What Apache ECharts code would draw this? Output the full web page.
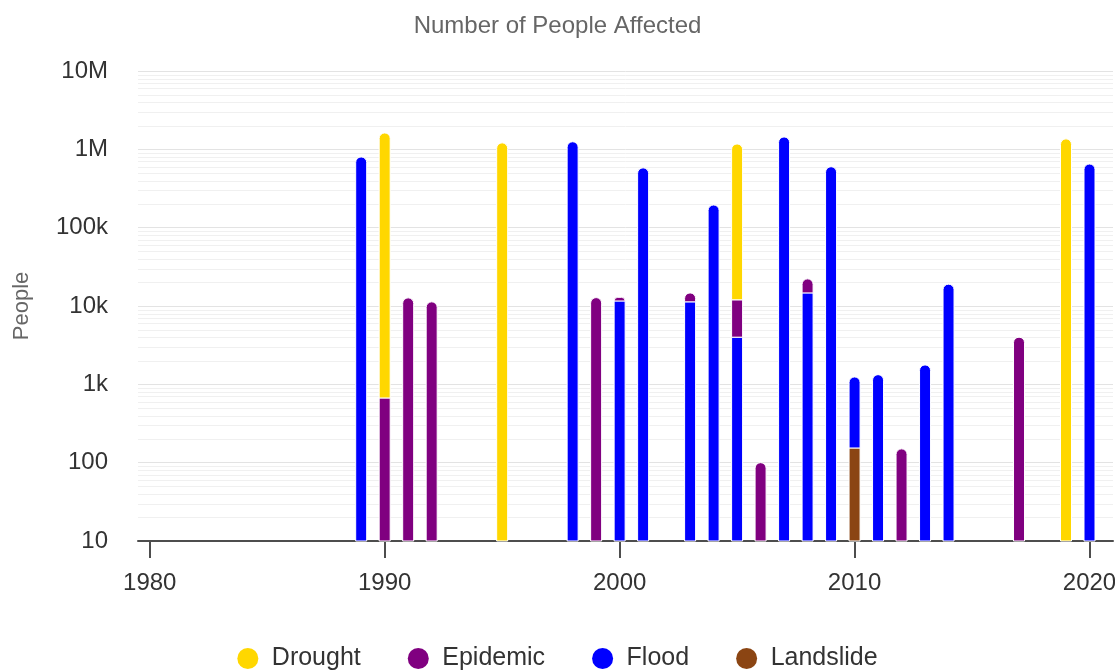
<!DOCTYPE html>
<html>
<head>
<meta charset="utf-8">
<title>Number of People Affected</title>
<script src="https://cdn.jsdelivr.net/npm/echarts@6/dist/echarts.min.js"></script>
<style>
  html, body { margin: 0; padding: 0; background: #fff; }
  #chart { width: 1115px; height: 670px; }
</style>
</head>
<body>
<div id="chart"></div>
<script>
// Years that have at least one recorded event
const years = [1989, 1990, 1991, 1992, 1995, 1998, 1999, 2000, 2001, 2003, 2004, 2005,
               2006, 2007, 2008, 2009, 2010, 2011, 2012, 2013, 2014, 2017, 2019, 2020];

// People affected per disaster type, aligned with `years` (null = no event)
const drought   = [null, 1620000, null, null, 1210000, null, null, null, null, null, null, 1160000,
                   null, null, null, null, null, null, null, null, null, null, 1360000, null];
const epidemic  = [null, 670, 12700, 11300, null, null, 12800, 1300, null, 3400, null, 8000,
                   100, null, 7500, null, null, null, 150, null, null, 4000, null, null];
const flood     = [800000, null, null, null, null, 1250000, null, 11600, 580000, 11300, 195000, 4000,
                   null, 1440000, 14700, 600000, 1090, 1330, null, 1770, 19000, null, null, 650000];
const landslide = [null, null, null, null, null, null, null, null, null, null, null, null,
                   null, null, null, null, 154, null, null, null, null, null, null, null];

const xTicks = [1980, 1990, 2000, 2010, 2020];
const yMin = 10, yMax = 10000000;

// Stack order from the bottom up
const layers = [
  { name: 'Landslide', values: landslide, color: '#8B4513' },
  { name: 'Flood',     values: flood,     color: '#0000FF' },
  { name: 'Epidemic',  values: epidemic,  color: '#800080' },
  { name: 'Drought',   values: drought,   color: '#FFD700' }
];
const legendOrder = ['Drought', 'Epidemic', 'Flood', 'Landslide'];

// Build [year, lower, upper, isTop] segments for each layer
const segments = layers.map(() => []);
years.forEach((yr, i) => {
  let base = yMin;
  let total = 0;
  let topLayer = -1;
  layers.forEach((l, k) => { if (l.values[i] != null) topLayer = k; });
  layers.forEach((l, k) => {
    const v = l.values[i];
    if (v == null) return;
    total += v;
    const upper = Math.max(total, yMin);
    segments[k].push([yr, base, upper, k === topLayer ? 1 : 0]);
    base = upper;
  });
});

// Minor log grid lines at 2..9 within each decade
const minorGrid = [];
for (let e = 1; e < 7; e++) {
  for (let m = 2; m <= 9; m++) minorGrid.push([years[0], m * Math.pow(10, e)]);
}

const BAR_W = 11;
function renderSegment(params, api) {
  const x = api.value(0);
  const p0 = api.coord([x, api.value(1)]);
  const p1 = api.coord([x, api.value(2)]);
  const isTop = api.value(3) === 1;
  const r = BAR_W / 2;
  return {
    type: 'rect',
    shape: {
      x: p0[0] - BAR_W / 2,
      y: p1[1],
      width: BAR_W,
      height: p0[1] - p1[1],
      r: isTop ? [r, r, 0, 0] : 0
    },
    style: { fill: api.visual('color'), stroke: '#ffffff', lineWidth: 1 }
  };
}

function renderGridLine(params, api) {
  const cs = params.coordSys;
  const y = Math.round(api.coord([api.value(0), api.value(1)])[1]) + 0.5;
  return {
    type: 'line',
    shape: { x1: cs.x, y1: y, x2: cs.x + cs.width, y2: y },
    style: { stroke: '#f0f0f0', lineWidth: 1 },
    silent: true
  };
}

const FONT = '"Liberation Sans", Arial, Helvetica, sans-serif';

function yLabel(v) {
  if (v >= 1e6) return (v / 1e6) + 'M';
  if (v >= 1e3) return (v / 1e3) + 'k';
  return String(v);
}

const series = [{
  type: 'custom',
  name: 'grid-minor',
  renderItem: renderGridLine,
  data: minorGrid,
  encode: { x: 0, y: 1 },
  silent: true,
  z: 0,
  tooltip: { show: false }
}].concat(layers.map((l, k) => ({
  type: 'custom',
  name: l.name,
  renderItem: renderSegment,
  data: segments[k],
  encode: { x: 0, y: [1, 2] },
  itemStyle: { color: l.color },
  z: 2
})));

const chart = echarts.init(document.getElementById('chart'), null, { renderer: 'canvas' });
chart.setOption({
  animation: false,
  backgroundColor: '#ffffff',
  textStyle: { fontFamily: FONT },
  title: {
    text: 'Number of People Affected',
    left: 'center',
    top: 9,
    textStyle: { fontFamily: FONT, fontSize: 24, fontWeight: 'normal', color: '#666666' }
  },
  legend: {
    data: legendOrder,
    left: 'center',
    top: 641,
    icon: 'circle',
    itemWidth: 38,
    itemHeight: 21,
    itemGap: 47,
    textStyle: { fontFamily: FONT, fontSize: 25, color: '#333333' }
  },
  grid: { left: 138, right: 2, top: 71, bottom: 129, containLabel: false, outerBoundsMode: 'none' },
  xAxis: {
    type: 'value',
    min: 1979.5,
    max: 2021,
    splitLine: { show: false },
    axisLine: { show: true, lineStyle: { color: '#4d4d4d', width: 2 } },
    axisTick: { show: true, length: 17, lineStyle: { color: '#4d4d4d', width: 2 }, customValues: xTicks },
    axisLabel: { customValues: xTicks, formatter: (v) => String(v), margin: 30, fontSize: 24, color: '#333333', fontFamily: FONT }
  },
  yAxis: {
    type: 'log',
    logBase: 10,
    min: yMin,
    max: yMax,
    name: 'People',
    nameLocation: 'middle',
    nameGap: 105,
    nameTextStyle: { fontSize: 22, color: '#666666', fontFamily: FONT },
    axisLine: { show: false },
    axisTick: { show: false },
    splitLine: { show: true, lineStyle: { color: '#e3e3e3', width: 1 } },
    axisLabel: { formatter: yLabel, margin: 30, fontSize: 24, color: '#333333', fontFamily: FONT }
  },
  series: series
});
</script>
</body>
</html>
